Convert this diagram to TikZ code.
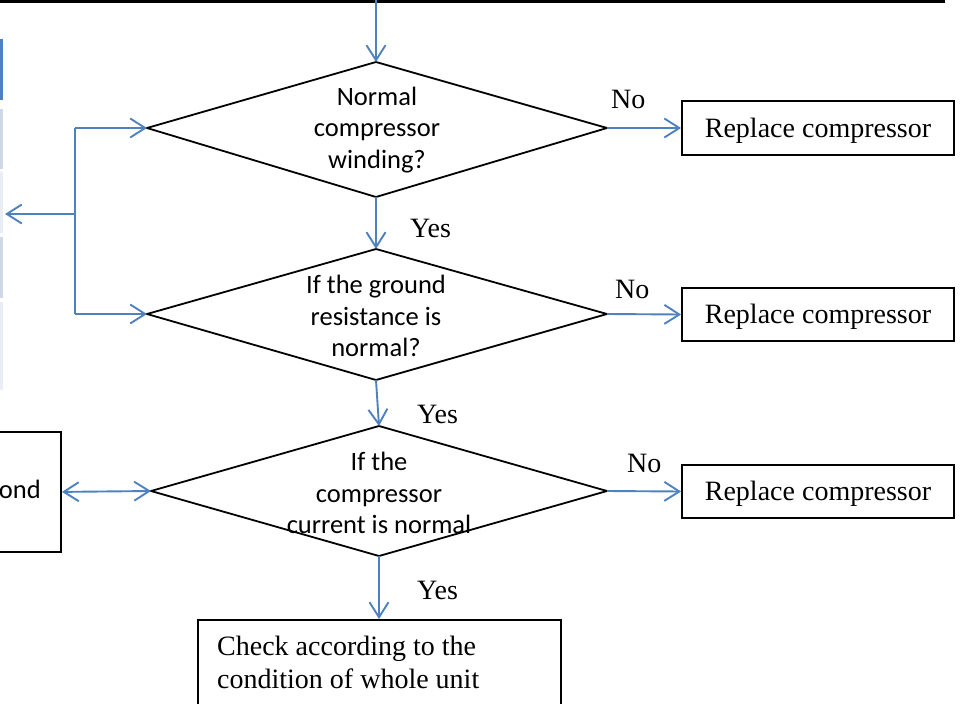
\documentclass[tikz,border=0pt]{standalone}
\usepackage{fontspec}
\setmainfont{Liberation Serif}
\newfontfamily\calibri{Carlito}
\usetikzlibrary{arrows.meta}

\definecolor{flowblue}{HTML}{4F81BD}
\definecolor{tabdark}{HTML}{4F81BD}
\definecolor{tabmid}{HTML}{D0D8E8}
\definecolor{tablight}{HTML}{E9EDF4}

\begin{document}
\begin{tikzpicture}[x=1pt,y=-1pt,
  barb/.tip={Straight Barb[length=15pt,width=19pt,line width=1.9pt]},
  wire/.style={draw=flowblue, line width=1.9pt},
  flow/.style={wire, -barb},
  decision/.style={draw=black, line width=1.8pt, line join=miter},
  outcome/.style={draw=black, line width=1.8pt, inner sep=0pt,
    text height=22pt, text depth=4pt,
    font=\fontsize{28}{34}\selectfont},
  qtext/.style={align=center, inner sep=0pt,
    font=\calibri\fontsize{26.5}{31.5}\selectfont},
  answer/.style={anchor=base west, inner sep=0pt,
    font=\fontsize{28}{34}\selectfont},
  bodytext/.style={anchor=base west, inner sep=0pt,
    font=\fontsize{28}{34}\selectfont}]

\useasboundingbox (0,0) rectangle (961,704);
\clip (0,0) rectangle (961,704);

% rule across the top and the table strips on the left edge
\draw[line width=3.5pt] (0,1.5) -- (945,1.5);
\fill[tabdark]  (0,39)  rectangle (3,100);
\fill[tabmid]   (0,109) rectangle (3,169);
\fill[tablight] (0,172) rectangle (3,233);
\fill[tabmid]   (0,237) rectangle (3,298);
\fill[tablight] (0,302) rectangle (3,390);

% decision diamonds
\coordinate (d1n) at (376,62);  \coordinate (d1e) at (607,128);
\coordinate (d1s) at (376,197); \coordinate (d1w) at (147,128);
\coordinate (d2n) at (376,249); \coordinate (d2e) at (607,314);
\coordinate (d2s) at (376,380); \coordinate (d2w) at (147,314);
\coordinate (d3n) at (379,426); \coordinate (d3e) at (607,491);
\coordinate (d3s) at (379,556); \coordinate (d3w) at (151,491);

\draw[decision] (d1n) -- (d1e) -- (d1s) -- (d1w) -- cycle;
\draw[decision] (d2n) -- (d2e) -- (d2s) -- (d2w) -- cycle;
\draw[decision] (d3n) -- (d3e) -- (d3s) -- (d3w) -- cycle;

\node[qtext] (q1) at (377,130) {Normal\\compressor\\winding?};
\node[qtext] (q2) at (376,316) {If the ground\\resistance is\\normal?};
\node[qtext] (q3) at (379,493) {If the\\compressor\\current is normal};

% outcome boxes
\node[outcome, minimum width=272pt, minimum height=54pt] (r1) at (818,128) {Replace compressor};
\node[outcome, minimum width=272pt, minimum height=53pt] (r2) at (818,314.5) {Replace compressor};
\node[outcome, minimum width=272pt, minimum height=53pt] (r3) at (818,491.5) {Replace compressor};

\node[outcome, anchor=north west, minimum width=363pt, minimum height=120pt] (chk) at (197,619) {};
\node[bodytext] (chk1) at (217,655) {Check according to the};
\node[bodytext] (chk2) at (217,688) {condition of whole unit};

\node[outcome, anchor=north east, minimum width=90pt, minimum height=120pt] (lbox) at (62,431) {};
\node[anchor=base east, inner sep=0pt, font=\calibri\fontsize{26.5}{31.5}\selectfont] (lboxtxt) at (41,498) {ond};

% connectors
\coordinate (entry) at (376,0);
\draw[flow] (entry) -- (d1n);
\draw[flow] (d1e) -- (r1.west);
\draw[flow] (d1s) -- (d2n);
\draw[flow] (d2e) -- (r2.west);
\draw[flow] (d2s) -- (d3n);
\draw[flow] (d3e) -- (r3.west);
\draw[flow] (d3s) -- (chk.north -| d3s);

\coordinate (jtop) at (75,128);
\coordinate (jmid) at (75,214);
\coordinate (jbot) at (75,314);
\coordinate (lout) at (5,214);
\draw[wire] (jtop) -- (jbot);
\draw[flow] (jtop) -- (d1w);
\draw[flow] (jbot) -- (d2w);
\draw[flow] (jmid) -- (lout);
\draw[wire, barb-barb] (lbox.east) -- (d3w);

% branch labels
\node[answer] (no1)  at (611,108) {No};
\node[answer] (yes1) at (410,237) {Yes};
\node[answer] (no2)  at (615,298) {No};
\node[answer] (yes2) at (417,423) {Yes};
\node[answer] (no3)  at (627,472) {No};
\node[answer] (yes3) at (417,599) {Yes};
\end{tikzpicture}
\end{document}
